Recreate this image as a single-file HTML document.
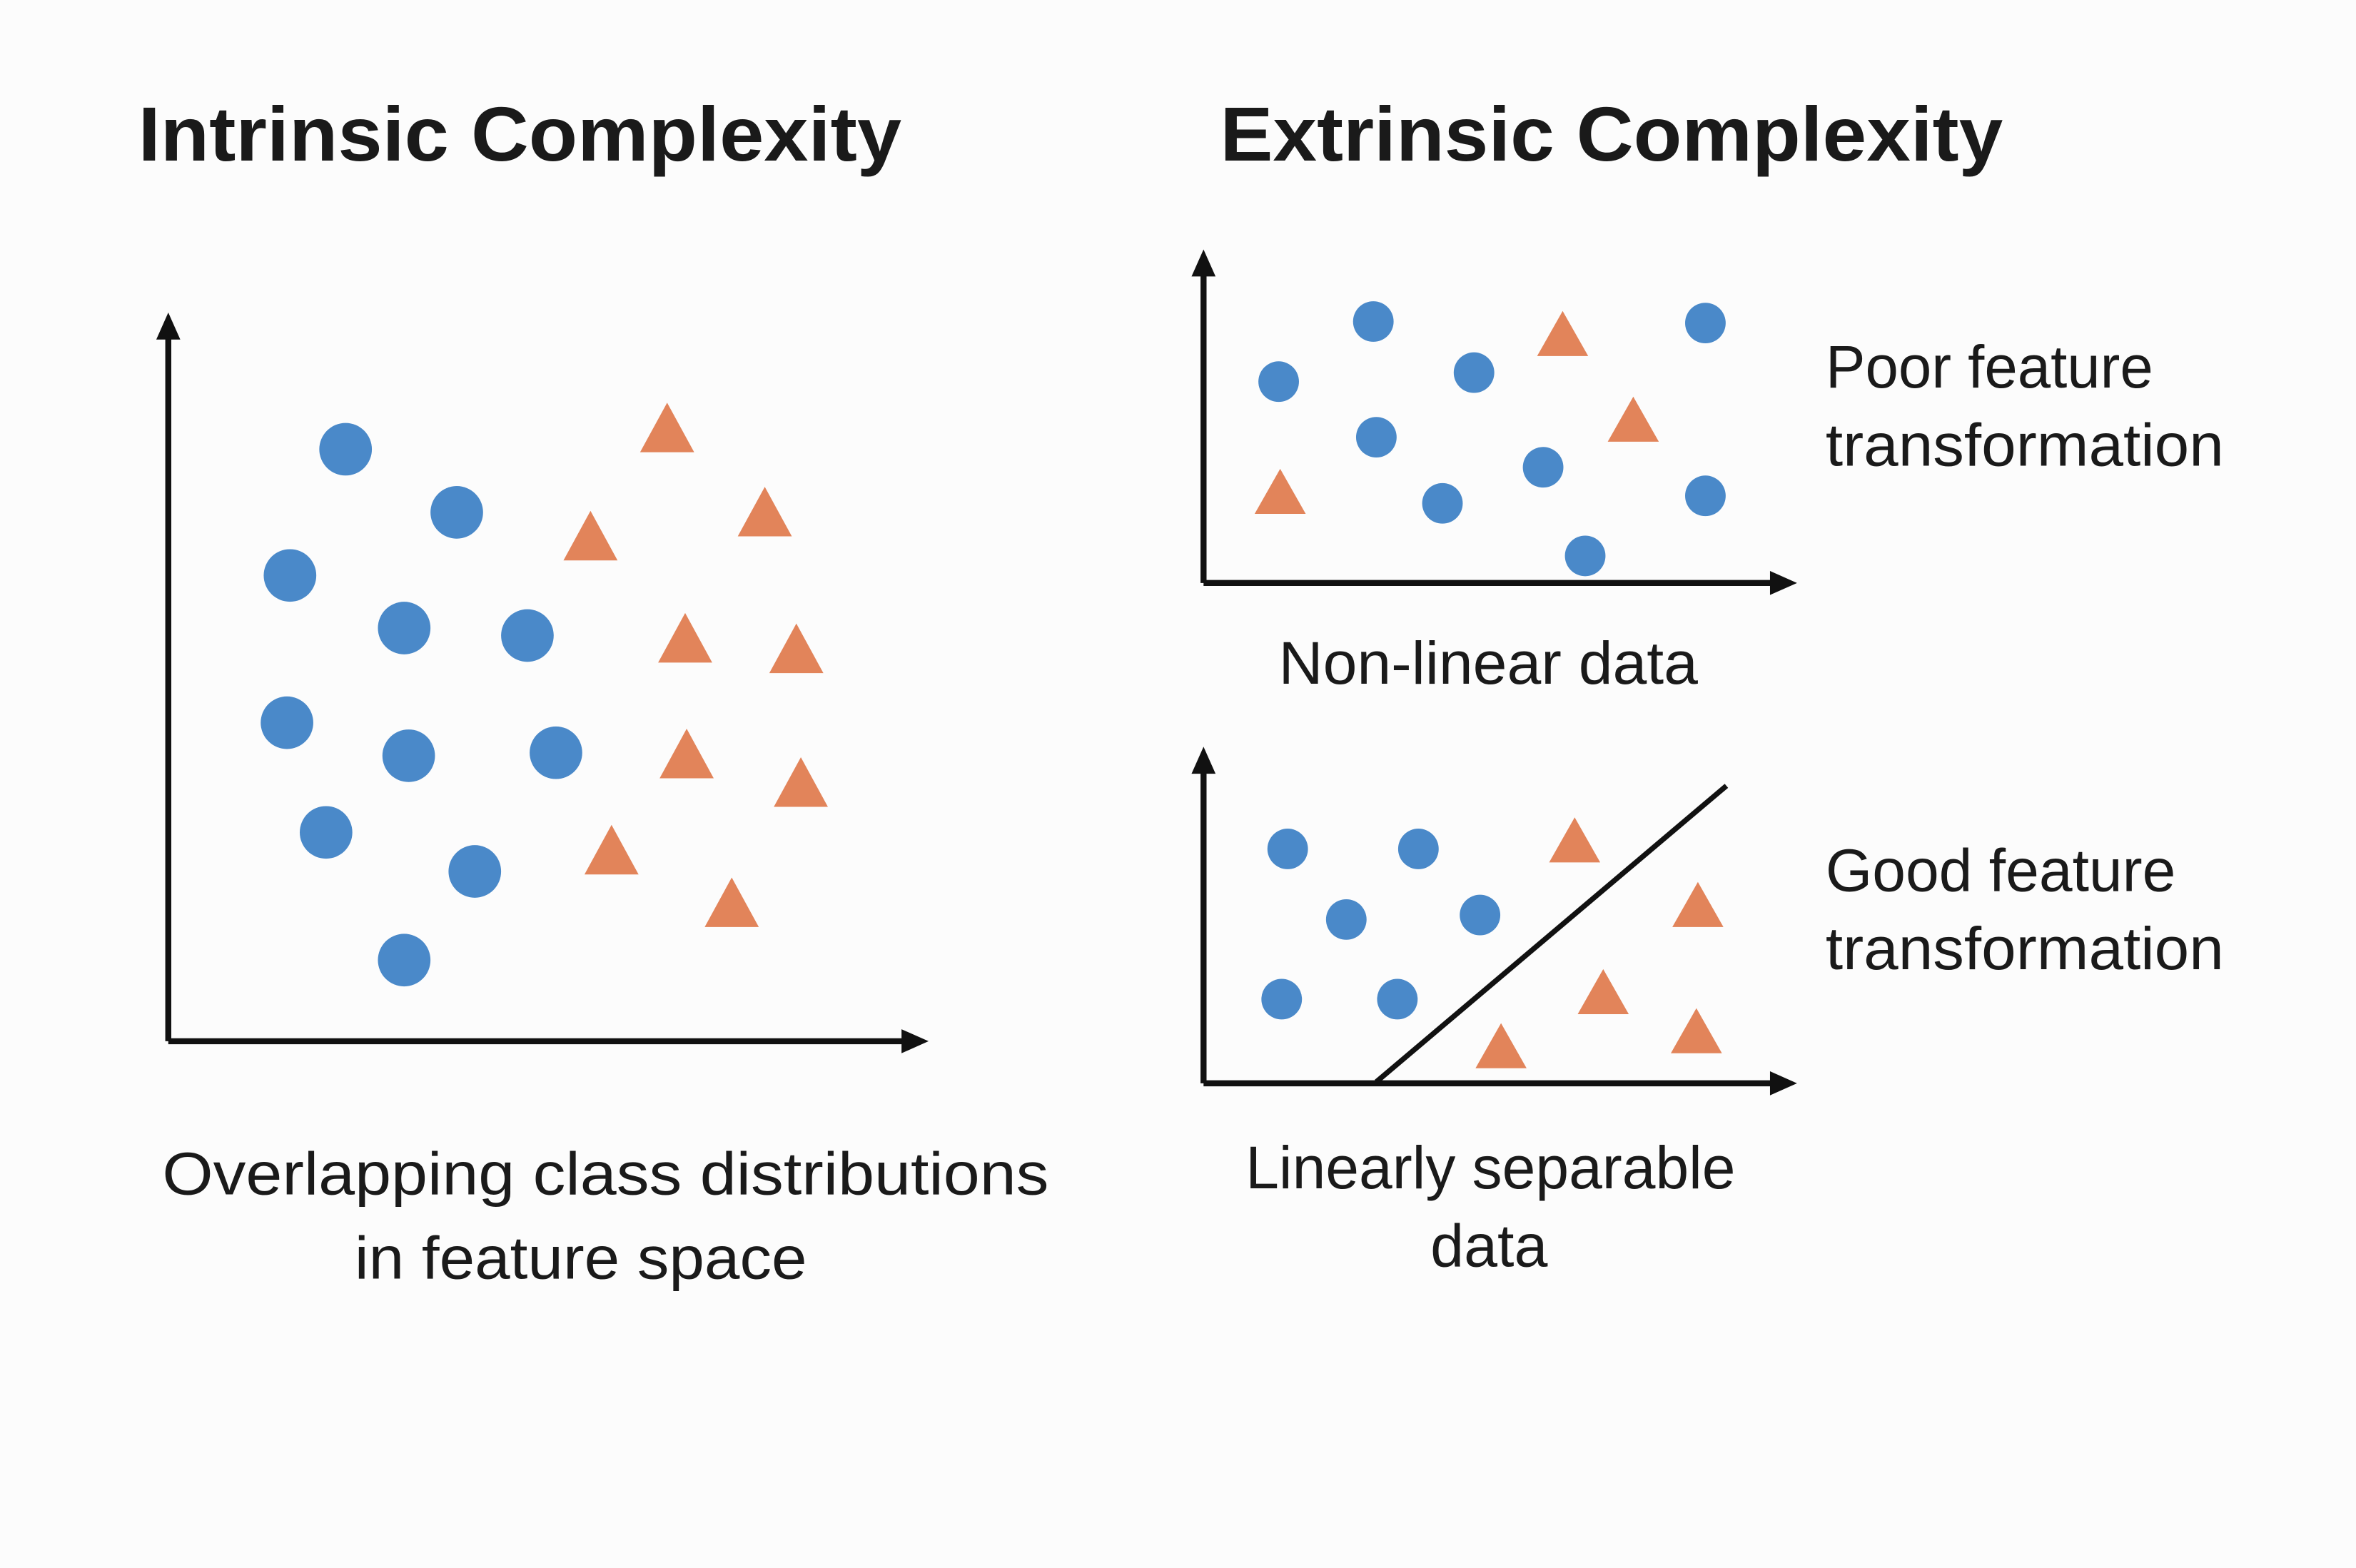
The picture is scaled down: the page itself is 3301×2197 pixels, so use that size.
<!DOCTYPE html>
<html><head><style>html,body{margin:0;padding:0;background:#fcfcfc}svg{display:block}</style></head>
<body>
<svg width="3301" height="2197" viewBox="0 0 1568 1043.6" preserveAspectRatio="none" xmlns="http://www.w3.org/2000/svg" font-family="Liberation Sans, DejaVu Sans, sans-serif" fill="#1a1a1a">
<rect width="1568" height="1044" fill="#fcfcfc"/>
<text x="92" y="107" font-size="51" font-weight="bold" textLength="508" lengthAdjust="spacingAndGlyphs">Intrinsic Complexity</text>
<text x="812" y="107" font-size="51" font-weight="bold" textLength="521" lengthAdjust="spacingAndGlyphs">Extrinsic Complexity</text>
<g stroke="#111" stroke-width="4" fill="none">
<path d="M112 693V222M112 693H604"/>
<path d="M801 388V180M801 388H1184"/>
<path d="M801 721V511M801 721H1184"/>
<path d="M916 720L1149 523" stroke-width="3.5"/>
</g>
<g fill="#111">
<polygon points="112,208 104,226 120,226"/>
<polygon points="618,693 600,685 600,701"/>
<polygon points="801,166 793,184 809,184"/>
<polygon points="1196,388 1178,380 1178,396"/>
<polygon points="801,497 793,515 809,515"/>
<polygon points="1196,721 1178,713 1178,729"/>
</g>
<g fill="#4a89c9">
<circle cx="230" cy="299" r="17.5"/><circle cx="304" cy="341" r="17.5"/><circle cx="193" cy="383" r="17.5"/><circle cx="269" cy="418" r="17.5"/><circle cx="351" cy="423" r="17.5"/><circle cx="191" cy="481" r="17.5"/><circle cx="272" cy="503" r="17.5"/><circle cx="370" cy="501" r="17.5"/><circle cx="217" cy="554" r="17.5"/><circle cx="316" cy="580" r="17.5"/><circle cx="269" cy="639" r="17.5"/>
<circle cx="851" cy="254" r="13.5"/><circle cx="914" cy="214" r="13.5"/><circle cx="981" cy="248" r="13.5"/><circle cx="1135" cy="215" r="13.5"/><circle cx="916" cy="291" r="13.5"/><circle cx="1027" cy="311" r="13.5"/><circle cx="960" cy="335" r="13.5"/><circle cx="1135" cy="330" r="13.5"/><circle cx="1055" cy="370" r="13.5"/>
<circle cx="857" cy="565" r="13.5"/><circle cx="944" cy="565" r="13.5"/><circle cx="896" cy="612" r="13.5"/><circle cx="985" cy="609" r="13.5"/><circle cx="853" cy="665" r="13.5"/><circle cx="930" cy="665" r="13.5"/>
</g>
<g fill="#e2845a">
<path d="M444 268l18 33h-36z"/><path d="M509 324l18 33h-36z"/><path d="M393 340l18 33h-36z"/><path d="M456 408l18 33h-36z"/><path d="M530 415l18 33h-36z"/><path d="M457 485l18 33h-36z"/><path d="M533 504l18 33h-36z"/><path d="M407 549l18 33h-36z"/><path d="M487 584l18 33h-36z"/>
<path d="M1040 207l17 30h-34z"/><path d="M1087 264l17 30h-34z"/><path d="M852 312l17 30h-34z"/>
<path d="M1048 544l17 30h-34z"/><path d="M1130 587l17 30h-34z"/><path d="M1067 645l17 30h-34z"/><path d="M1129 671l17 30h-34z"/><path d="M999 681l17 30h-34z"/>
</g>
<g font-size="40" lengthAdjust="spacingAndGlyphs">
<text x="108" y="795" textLength="590" lengthAdjust="spacingAndGlyphs">Overlapping class distributions</text>
<text x="236" y="851" textLength="301" lengthAdjust="spacingAndGlyphs">in feature space</text>
<text x="1215" y="258" textLength="218" lengthAdjust="spacingAndGlyphs">Poor feature</text>
<text x="1215" y="310" textLength="265" lengthAdjust="spacingAndGlyphs">transformation</text>
<text x="851" y="455" textLength="279" lengthAdjust="spacingAndGlyphs">Non-linear data</text>
<text x="1215" y="593" textLength="233" lengthAdjust="spacingAndGlyphs">Good feature</text>
<text x="1215" y="645" textLength="265" lengthAdjust="spacingAndGlyphs">transformation</text>
<text x="829" y="791" textLength="326" lengthAdjust="spacingAndGlyphs">Linearly separable</text>
<text x="952" y="843" textLength="78" lengthAdjust="spacingAndGlyphs">data</text>
</g>
</svg>
</body></html>
